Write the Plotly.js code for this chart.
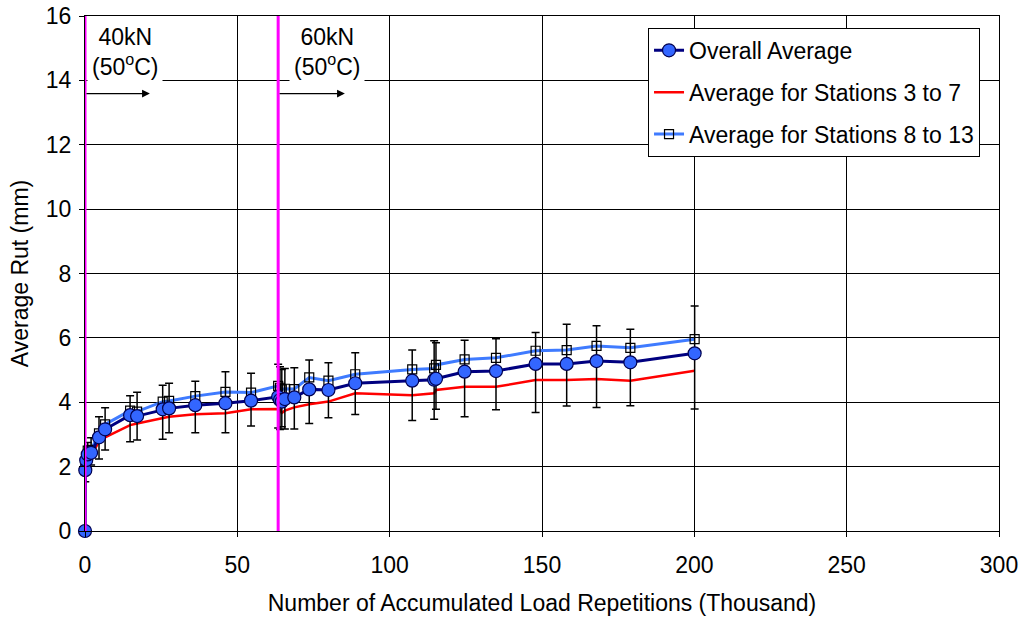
<!DOCTYPE html>
<html>
<head>
<meta charset="utf-8">
<script src="https://cdn.plot.ly/plotly-3.0.1.min.js"></script>
<style>html,body{margin:0;padding:0;background:#fff;}#chart{width:1022px;height:619px;}</style>
</head>
<body>
<div id="chart"></div>
<script>
// Accumulated load repetitions (thousand)
var reps = [0, 0.1, 0.4, 0.9, 2.0, 4.6, 6.6, 14.8, 17.1, 25.5, 27.6, 36.2, 46.1, 54.5, 63.4, 64.0, 64.6, 65.6, 68.7, 73.6, 79.9, 88.7, 107.4, 114.6, 115.2, 124.6, 134.9, 147.9, 158.1, 167.9, 179.0, 200.1];
// Overall average rut (mm)
var overall = [0, 1.89, 2.2, 2.38, 2.43, 2.91, 3.16, 3.6, 3.57, 3.78, 3.81, 3.91, 3.97, 4.05, 4.17, 4.07, 4.02, 4.10, 4.15, 4.40, 4.38, 4.59, 4.67, 4.70, 4.73, 4.95, 4.97, 5.19, 5.19, 5.28, 5.24, 5.52];
// Average for stations 3 to 7
var st3to7 = [0, 1.85, 2.15, 2.3, 2.36, 2.77, 2.91, 3.29, 3.34, 3.5, 3.55, 3.63, 3.66, 3.78, 3.79, 3.76, 3.67, 3.74, 3.84, 3.94, 4.02, 4.28, 4.22, 4.28, 4.38, 4.48, 4.48, 4.69, 4.69, 4.72, 4.67, 4.98];
// Average for stations 8 to 13
var st8to13 = [0, 1.92, 2.27, 2.5, 2.52, 3.03, 3.31, 3.74, 3.71, 4.02, 4.04, 4.19, 4.32, 4.30, 4.51, 4.45, 4.40, 4.42, 4.41, 4.77, 4.67, 4.87, 5.02, 5.05, 5.16, 5.33, 5.38, 5.60, 5.62, 5.75, 5.69, 5.96];
// Error bar limits for overall average
var errTop = [0, 2.2, 2.6, 2.75, 2.9, 3.55, 3.83, 4.2, 4.31, 4.53, 4.59, 4.65, 4.95, 4.90, 5.18, 5.1, 5.02, 5.05, 5.07, 5.31, 5.23, 5.54, 5.62, 5.91, 5.85, 5.93, 5.97, 6.17, 6.42, 6.38, 6.27, 6.99];
var errBottom = [0, 1.53, 1.85, 2.0, 2.05, 2.24, 2.52, 2.77, 2.83, 2.85, 3.05, 3.05, 3.05, 3.26, 3.2, 3.15, 3.24, 3.17, 3.17, 3.34, 3.52, 3.62, 3.43, 3.47, 3.78, 3.55, 3.77, 3.68, 3.88, 3.84, 3.89, 3.79];
// Load stage boundaries and labels
var stageStart = [0, 63.4];
var stageLabels = ['40kN<br>(50<sup>o</sup>C)', '60kN<br>(50<sup>o</sup>C)'];
var stageLabelX = [13.1, 79.3];
var stageArrowEnd = [21.3, 85.3];

var errPlus = errTop.map(function(v, i){ return +(v - overall[i]).toFixed(3); });
var errMinus = errBottom.map(function(v, i){ return +(overall[i] - v).toFixed(3); });

var FONT = 'Liberation Sans, Arial, sans-serif';
var FS = 23;

var traces = [
  {
    x: reps, y: st3to7, name: 'Average for Stations 3 to 7', mode: 'lines',
    line: {color: '#FF0000', width: 2.5}, legendrank: 2, legendgroup: 'b', cliponaxis: false
  },
  {
    x: reps, y: st8to13, name: 'Average for Stations 8 to 13', mode: 'lines+markers',
    line: {color: '#3F7BFF', width: 3},
    marker: {symbol: 'square-open', size: 9, color: '#000', line: {width: 1.2}},
    legendrank: 3, legendgroup: 'c', cliponaxis: false
  },
  {
    x: reps, y: overall, name: 'Overall Average', mode: 'lines+markers',
    line: {color: '#000080', width: 3},
    marker: {symbol: 'circle', size: 13, color: '#3366FF', line: {color: '#000050', width: 1.2}},
    error_y: {type: 'data', symmetric: false, array: errPlus, arrayminus: errMinus, color: '#000', thickness: 1.5, width: 4},
    legendrank: 1, legendgroup: 'a', cliponaxis: false
  }
];

var shapes = stageStart.map(function(x){
  return {type: 'line', xref: 'x', yref: 'paper', x0: x, x1: x, y0: 0, y1: 1, line: {color: '#FF00FF', width: 3}, layer: 'above'};
});

var annotations = [];
stageLabels.forEach(function(t, i){
  annotations.push({x: stageLabelX[i], y: 14.88, xref: 'x', yref: 'y', text: t, showarrow: false,
    font: {family: FONT, size: FS, color: '#000'}, bgcolor: '#fff', borderpad: 4});
  annotations.push({x: stageArrowEnd[i], y: 13.59, ax: stageStart[i], ay: 13.59, xref: 'x', yref: 'y', axref: 'x', ayref: 'y',
    text: '', showarrow: true, arrowhead: 2, arrowsize: 1.2, arrowwidth: 1.3, arrowcolor: '#000'});
});

var layout = {
  width: 1022, height: 619,
  margin: {l: 85, r: 23, t: 16, b: 88},
  paper_bgcolor: '#fff', plot_bgcolor: '#fff',
  font: {family: FONT, size: FS, color: '#000'},
  showlegend: true,
  legend: {x: 0.616, y: 0.977, xanchor: 'left', yanchor: 'top', bgcolor: '#fff', bordercolor: '#000', borderwidth: 1,
    font: {family: FONT, size: FS, color: '#000'}, tracegroupgap: 9, traceorder: 'grouped', itemwidth: 30},
  xaxis: {range: [0, 300], dtick: 50, showgrid: true, gridcolor: '#000', gridwidth: 1, zeroline: false,
    showline: true, linecolor: '#000', linewidth: 1, mirror: true, ticks: 'outside', ticklen: 5, tickcolor: '#000',
    tickfont: {family: FONT, size: FS}, ticklabelstandoff: 8,
    title: {text: 'Number of Accumulated Load Repetitions (Thousand)', font: {family: FONT, size: FS}, standoff: 18}},
  yaxis: {range: [0, 16], dtick: 2, showgrid: true, gridcolor: '#000', gridwidth: 1, zeroline: false,
    showline: true, linecolor: '#000', linewidth: 1, mirror: true, ticks: 'outside', ticklen: 5, tickcolor: '#000',
    tickfont: {family: FONT, size: FS}, ticklabelstandoff: 3,
    title: {text: 'Average Rut (mm)', font: {family: FONT, size: FS}, standoff: 10}},
  shapes: shapes,
  annotations: annotations
};

Plotly.newPlot('chart', traces, layout, {displayModeBar: false, staticPlot: true});
</script>
</body>
</html>
